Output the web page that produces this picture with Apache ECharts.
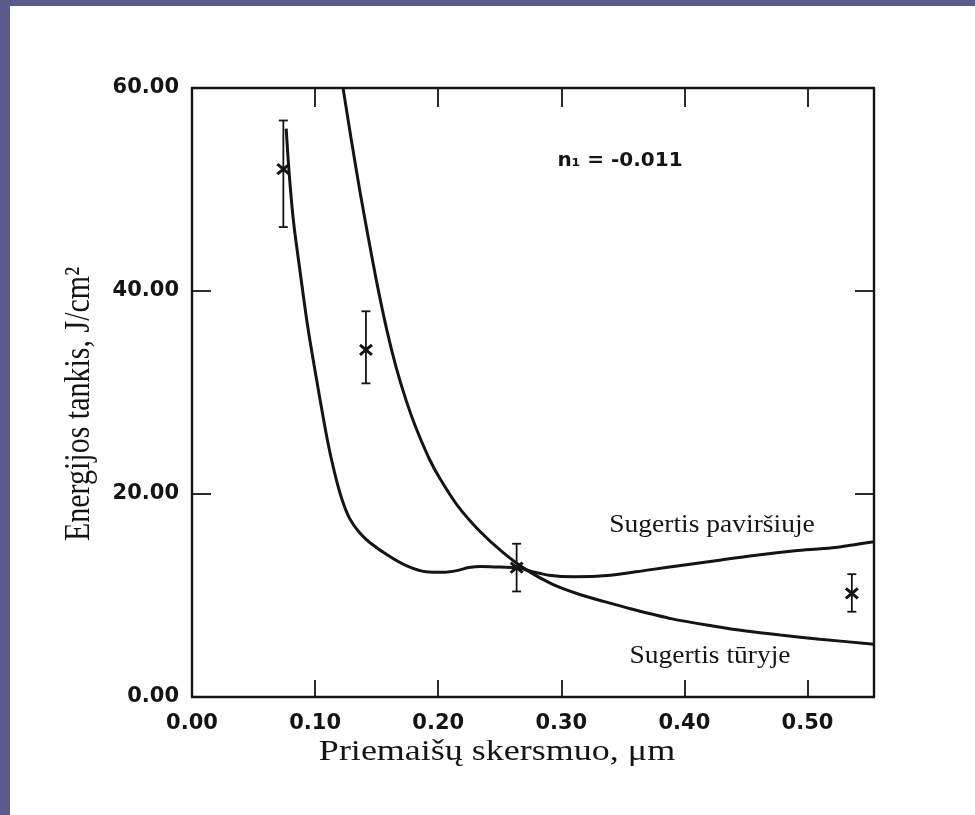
<!DOCTYPE html>
<html>
<head>
<meta charset="utf-8">
<title>Energijos tankis</title>
<script src="https://cdn.jsdelivr.net/npm/echarts@6/dist/echarts.min.js"></script>
<style>
  html, body { margin: 0; padding: 0; background: #5a5b8c; }
  #chart { width: 975px; height: 815px; }
</style>
</head>
<body>
<div id="chart"></div>
<script>
// Curve: absorption at the surface (x in µm, y in J/cm²)
const surfaceX = [0.0765, 0.079, 0.0825, 0.0877, 0.094, 0.1013, 0.110, 0.116, 0.122, 0.128, 0.136, 0.1446, 0.160, 0.175, 0.190, 0.205, 0.215, 0.225, 0.235, 0.250, 0.264, 0.275, 0.290, 0.310, 0.340, 0.370, 0.400, 0.430, 0.460, 0.490, 0.520, 0.554];
const surfaceY = [56.0, 51.5, 46.8, 42.0, 36.5, 31.2, 25.3, 22.0, 19.4, 17.6, 16.2, 15.2, 13.9, 12.9, 12.35, 12.3, 12.45, 12.75, 12.85, 12.8, 12.75, 12.4, 12.0, 11.85, 12.0, 12.5, 13.0, 13.5, 14.0, 14.4, 14.7, 15.3];

// Curve: absorption in the volume
const volumeX = [0.1227, 0.129, 0.136, 0.143, 0.150, 0.158, 0.166, 0.174, 0.182, 0.193, 0.2015, 0.216, 0.234, 0.253, 0.272, 0.293, 0.315, 0.335, 0.356, 0.390, 0.423, 0.450, 0.478, 0.510, 0.554];
const volumeY = [60.0, 55.2, 50.1, 45.4, 40.9, 36.3, 32.4, 29.2, 26.5, 23.4, 21.5, 18.8, 16.3, 14.2, 12.5, 11.1, 10.1, 9.4, 8.7, 7.7, 7.0, 6.5, 6.1, 5.7, 5.2];

// Measured points with error bars
const pointX = [0.0742, 0.1413, 0.2637, 0.536];
const pointY = [52.0, 34.2, 12.75, 10.2];
const errLow = [46.3, 30.9, 10.4, 8.4];
const errHigh = [56.8, 38.0, 15.1, 12.1];

// Axis setup
const xMin = 0, xMax = 0.554, xStep = 0.1;
const yMin = 0, yMax = 60, yStep = 20;

const xTitle = 'Priemaišų skersmuo, μm';
const yTitle = 'Energijos tankis, J/cm²';
const labelSurface = 'Sugertis paviršiuje';
const labelVolume = 'Sugertis tūryje';
const labelIndex = 'n₁ = -0.011';

const ink = '#141414';
const zip = (xs, ys) => xs.map((x, i) => [x, ys[i]]);

const tickFont = { color: ink, fontFamily: 'DejaVu Sans', fontWeight: 'bold', fontSize: 21 };

function frameAxis(base) {
  return Object.assign({
    axisLine: { show: true, onZero: false, lineStyle: { color: ink, width: 2.4 } },
    splitLine: { show: false }
  }, base);
}

function text(x, y, str, font, opts) {
  opts = opts || {};
  return {
    type: 'text',
    x: x, y: y,
    rotation: opts.rotation || 0,
    scaleX: opts.scaleX || 1,
    scaleY: opts.scaleY || 1,
    z: 50,
    style: {
      x: 0, y: 0,
      text: str,
      font: font,
      fill: ink,
      align: 'center', textAlign: 'center',
      verticalAlign: 'middle', textVerticalAlign: 'middle'
    }
  };
}

const tick = len => ({ show: true, inside: true, length: len, lineStyle: { color: ink, width: 1.8 } });

const chart = echarts.init(document.getElementById('chart'), null, { renderer: 'canvas' });

chart.setOption({
  backgroundColor: '#5a5b8c',
  animation: false,
  grid: { left: 192, top: 88, width: 682, height: 609, containLabel: false },
  xAxis: [
    frameAxis({
      type: 'value', min: xMin, max: xMax, interval: xStep, position: 'bottom',
      axisTick: tick(17),
      axisLabel: Object.assign({ margin: 16, showMaxLabel: false, formatter: v => v.toFixed(2) }, tickFont)
    }),
    frameAxis({
      type: 'value', min: xMin, max: xMax, interval: xStep, position: 'top',
      axisTick: tick(19),
      axisLabel: { show: false }
    })
  ],
  yAxis: [
    frameAxis({
      type: 'value', min: yMin, max: yMax, interval: yStep, position: 'left',
      axisTick: tick(19),
      axisLabel: Object.assign({ margin: 13, formatter: v => v.toFixed(2) }, tickFont)
    }),
    frameAxis({
      type: 'value', min: yMin, max: yMax, interval: yStep, position: 'right',
      axisTick: tick(19),
      axisLabel: { show: false }
    })
  ],
  graphic: [
    { type: 'rect', z: -100, shape: { x: 10, y: 6, width: 965, height: 809 }, style: { fill: '#ffffff' } },
    text(497, 752, xTitle, '30px "Liberation Serif"', { scaleX: 1.2 }),
    text(80, 404, yTitle, '30px "Liberation Serif"', { rotation: Math.PI / 2, scaleY: 1.2 }),
    text(620, 161, labelIndex, 'bold 20px "DejaVu Sans"'),
    text(712, 525, labelSurface, '25px "Liberation Serif"', { scaleX: 1.1 }),
    text(710, 656, labelVolume, '25px "Liberation Serif"', { scaleX: 1.1 })
  ],
  series: [
    {
      name: labelSurface, type: 'line', data: zip(surfaceX, surfaceY),
      smooth: 0.3, symbol: 'none', clip: true,
      lineStyle: { color: ink, width: 3 }
    },
    {
      name: labelVolume, type: 'line', data: zip(volumeX, volumeY),
      smooth: 0.3, symbol: 'none', clip: true,
      lineStyle: { color: ink, width: 3 }
    },
    {
      // error bars: vertical whisker with short caps
      type: 'custom', name: 'error',
      data: pointX.map((x, i) => [x, errLow[i], errHigh[i]]),
      renderItem: function (params, api) {
        const lo = api.coord([api.value(0), api.value(1)]);
        const hi = api.coord([api.value(0), api.value(2)]);
        const cap = 4.5;
        const st = { stroke: ink, lineWidth: 1.8 };
        return {
          type: 'group',
          children: [
            { type: 'line', shape: { x1: lo[0], y1: lo[1], x2: hi[0], y2: hi[1] }, style: st },
            { type: 'line', shape: { x1: lo[0] - cap, y1: lo[1], x2: lo[0] + cap, y2: lo[1] }, style: st },
            { type: 'line', shape: { x1: hi[0] - cap, y1: hi[1], x2: hi[0] + cap, y2: hi[1] }, style: st }
          ]
        };
      },
      z: 5
    },
    {
      // cross markers at the measured values
      type: 'custom', name: 'points',
      data: zip(pointX, pointY),
      renderItem: function (params, api) {
        const c = api.coord([api.value(0), api.value(1)]);
        const dx = 6, dy = 5;
        const st = { stroke: ink, lineWidth: 3 };
        return {
          type: 'group',
          children: [
            { type: 'line', shape: { x1: c[0] - dx, y1: c[1] - dy, x2: c[0] + dx, y2: c[1] + dy }, style: st },
            { type: 'line', shape: { x1: c[0] - dx, y1: c[1] + dy, x2: c[0] + dx, y2: c[1] - dy }, style: st }
          ]
        };
      },
      z: 6
    }
  ]
});
</script>
</body>
</html>
